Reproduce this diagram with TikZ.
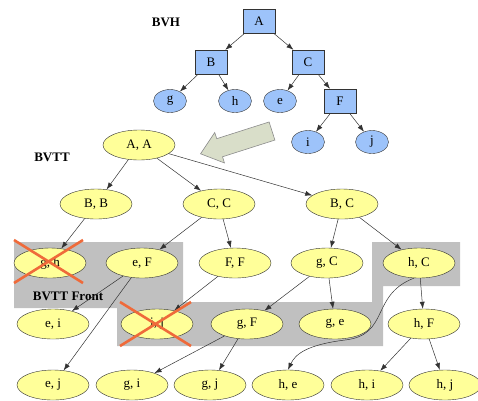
\documentclass[tikz,border=0pt]{standalone}
\usepackage{fontspec}
\setmainfont{Liberation Serif}
\usetikzlibrary{shapes.geometric,arrows.meta}
\definecolor{bvhblue}{HTML}{9DC3FA}
\definecolor{ttyellow}{HTML}{FFFF99}
\definecolor{frontgray}{HTML}{C0C0C0}
\definecolor{crossred}{HTML}{EF6A3A}
\definecolor{bigarrow}{HTML}{D9DEC9}
\begin{document}
\begin{tikzpicture}[x=1pt,y=-1pt,
  font=\fontsize{13}{15}\selectfont,
  bvhbox/.style={draw=black!80,fill=bvhblue,minimum width=32pt,minimum height=24pt,inner sep=0pt},
  bvhleaf/.style={ellipse,draw=black!80,fill=bvhblue,minimum width=33pt,minimum height=23pt,inner sep=0pt},
  ttnode/.style={ellipse,draw=black!80,fill=ttyellow,minimum width=72pt,minimum height=30pt,inner sep=0pt},
  edge/.style={draw=black!80,line width=0.5pt,-{Latex[length=7pt,width=5pt]}},
  crossline/.style={draw=crossred,line width=2.6pt},
  lbl/.style={font=\fontsize{13}{15}\selectfont\bfseries}]
\useasboundingbox (0,0) rectangle (478,400);
% BVH
\node[lbl] (bvhlbl) at (166,22) {BVH};
\node[bvhbox] (A) at (259,21) {A};
\node[bvhbox] (B) at (211,62) {B};
\node[bvhbox] (C) at (308,62) {C};
\node[bvhleaf] (g) at (170,101) {g};
\node[bvhleaf] (h) at (235,101) {h};
\node[bvhleaf] (e) at (280,101) {e};
\node[bvhbox] (F) at (340,101) {F};
\node[bvhleaf] (i) at (308,142) {i};
\node[bvhleaf] (j) at (372,142) {j};
\foreach \a/\b in {A/B,A/C,B/g,B/h,C/e,C/F,F/i,F/j} \draw[edge] (\a) -- (\b);
% big arrow
\begin{scope}[shift={(272,131)},rotate=-162.3]
\draw[draw=black!45,fill=bigarrow,line width=0.6pt]
  (0,-9.5) -- (55,-9.5) -- (55,-16) -- (75,0) -- (55,16) -- (55,9.5) -- (0,9.5) -- cycle;
\end{scope}
% front region
\fill[frontgray] (14,242) -- (183,242) -- (183,302) -- (372,302) -- (372,242) -- (460,242)
  -- (460,286) -- (383,286) -- (383,346) -- (117,346) -- (117,308) -- (14,308) -- cycle;
\node[lbl] (bvttlbl) at (52,157) {BVTT};
\node[lbl] (frontlbl) at (68,296) {BVTT Front};
% BVTT
\node[ttnode] (AA) at (139,145) {A, A};
\node[ttnode] (BB) at (96,204) {B, B};
\node[ttnode] (CC) at (219,204) {C, C};
\node[ttnode] (BC) at (342,204) {B, C};
\node[ttnode] (gh) at (50,263) {g, h};
\node[ttnode] (eF) at (142,263) {e, F};
\node[ttnode] (FF) at (235,263) {F, F};
\node[ttnode] (gC) at (327,263) {g, C};
\node[ttnode] (hC) at (419,263) {h, C};
\node[ttnode] (ei) at (53,324) {e, i};
\node[ttnode] (ij) at (157,324) {i, j};
\node[ttnode] (gF) at (247,324) {g, F};
\node[ttnode] (ge) at (335,324) {g, e};
\node[ttnode] (hF) at (424,324) {h, F};
\node[ttnode] (ej) at (53,385) {e, j};
\node[ttnode] (gi) at (132,385) {g, i};
\node[ttnode] (gj) at (210,385) {g, j};
\node[ttnode] (he) at (288,385) {h, e};
\node[ttnode] (hi) at (367,385) {h, i};
\node[ttnode] (hj) at (445,385) {h, j};
\foreach \a/\b in {AA/BB,AA/CC,AA/BC,BB/gh,CC/eF,CC/FF,BC/gC,BC/hC,eF/ei,eF/ej,FF/ij,gC/gF,gC/ge,hC/hF,gF/gi,gF/gj,hF/hi,hF/hj}
  \draw[edge] (\a) -- (\b);
\draw[edge] (hC.252) .. controls (370,295) and (390,335) .. (345,340)
  .. controls (305,345) and (295,355) .. (he.north);
% crosses
\draw[crossline] (14,240) -- (83,283) (14,283) -- (83,240);
\draw[crossline] (120,302) -- (191,346) (120,346) -- (191,302);
\end{tikzpicture}
\end{document}
